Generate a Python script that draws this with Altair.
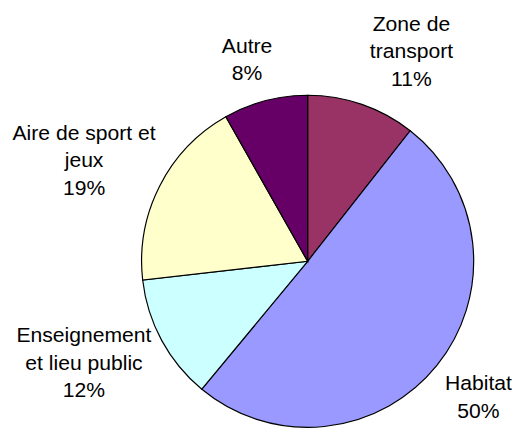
import altair as alt
import pandas as pd
import math

# Data
categories = ["Zone de transport", "Habitat", "Enseignement et lieu public",
              "Aire de sport et jeux", "Autre"]
label_names = ["Zone de\ntransport", "Habitat", "Enseignement\net lieu public",
               "Aire de sport et\njeux", "Autre"]
values = [10.6, 50.4, 12.2, 18.6, 8.2]

# Styles (label placement relative to the slice's mid angle)
colors = ["#993366", "#9999FF", "#CCFFFF", "#FFFFCC", "#660066"]
label_radius = [263, 214, 240, 262, 227]
label_shift_deg = [4.6, -3.2, 10.0, 2.7, -1.0]

df = pd.DataFrame({
    "cat": categories,
    "value": values,
    "order": list(range(len(categories))),
})
df["label"] = [f"{n}\n{round(v)}%" for n, v in zip(label_names, values)]
df["lr"] = label_radius
df["shift"] = label_shift_deg

CX, CY, R = 305, 254, 169

pie = alt.Chart(df).mark_arc(radius=R, stroke="black", strokeWidth=1.2).encode(
    theta=alt.Theta("value:Q", stack=True),
    order=alt.Order("order:Q"),
    x=alt.value(CX),
    y=alt.value(CY),
    color=alt.Color("cat:N", scale=alt.Scale(domain=categories, range=colors), legend=None),
)

labels = alt.Chart(df).transform_window(
    cum="sum(value)", sort=[alt.SortField("order")]
).transform_joinaggregate(
    total="sum(value)"
).transform_calculate(
    mid=f"((datum.cum - datum.value / 2) / datum.total * 360 + datum.shift) * {math.pi} / 180"
).mark_text(
    font="Liberation Sans", fontSize=21.5, lineHeight=28.3, lineBreak="\n",
    align="center", baseline="middle", color="black",
).encode(
    theta=alt.Theta("mid:Q", scale=None, stack=None),
    radius=alt.Radius("lr:Q", scale=None),
    x=alt.value(CX),
    y=alt.value(CY),
    text="label:N",
)

chart = (pie + labels).properties(width=504, height=412, padding=0).configure_view(stroke=None)

chart.save("out.html", embed_options={"renderer": "svg", "actions": False})
